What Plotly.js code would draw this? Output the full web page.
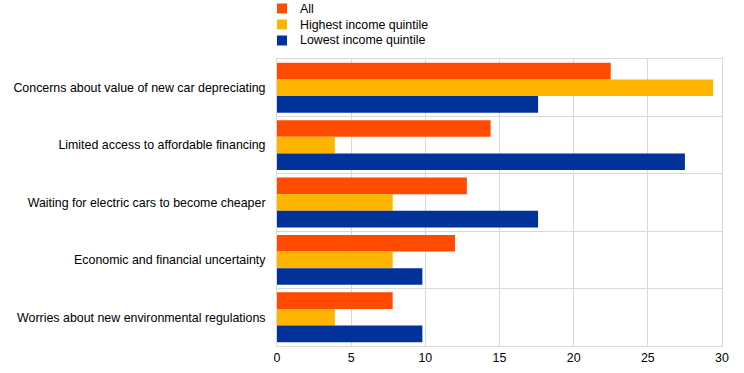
<!DOCTYPE html>
<html>
<head>
<meta charset="utf-8">
<script src="https://cdn.plot.ly/plotly-3.0.1.min.js"></script>
<style>
  html, body { margin: 0; padding: 0; background: #fff; }
  #chart { width: 744px; height: 373px; }
</style>
</head>
<body>
<div id="chart"></div>
<script>
const categories = [
  "Concerns about value of new car depreciating",
  "Limited access to affordable financing",
  "Waiting for electric cars to become cheaper",
  "Economic and financial uncertainty",
  "Worries about new environmental regulations"
];
const seriesNames = ["All", "Highest income quintile", "Lowest income quintile"];
const allValues = [22.5, 14.4, 12.8, 12.0, 7.8];
const highestValues = [29.4, 3.9, 7.8, 7.8, 3.9];
const lowestValues = [17.6, 27.5, 17.6, 9.8, 9.8];
const colors = ["#FF4B00", "#FFB400", "#003299"];
const xTicks = [0, 5, 10, 15, 20, 25, 30];

const W = 744, H = 373;
const M = { l: 277, r: 22, t: 59, b: 27 };
const plotW = W - M.l - M.r, plotH = H - M.t - M.b;
const FONT = "Arial, 'Liberation Sans', sans-serif";
const FS = 12.4;

const seriesValues = [allValues, highestValues, lowestValues];
const traces = seriesValues.map((vals, i) => ({
  type: "bar",
  orientation: "h",
  name: seriesNames[i],
  y: categories,
  x: vals,
  marker: { color: colors[i], line: { width: 0 } },
  hoverinfo: "x+y+name"
}));

// Legend drawn as shapes + annotations in the top margin (compact row spacing like the reference)
const px2x = px => (px - M.l) / plotW;
const py2y = py => (H - M.b - py) / plotH;
const shapes = [], annotations = [];
seriesNames.forEach((name, i) => {
  const cy = 8.5 + 16 * i;
  shapes.push({
    type: "rect", xref: "paper", yref: "paper",
    x0: px2x(277), x1: px2x(287), y0: py2y(cy + 5), y1: py2y(cy - 5),
    fillcolor: colors[i], line: { width: 0 }
  });
  annotations.push({
    xref: "paper", yref: "paper", x: px2x(298), y: py2y(cy),
    xanchor: "left", yanchor: "middle", showarrow: false,
    text: name, font: { family: FONT, size: FS, color: "#000000" }
  });
});

const layout = {
  width: W,
  height: H,
  margin: { l: M.l, r: M.r, t: M.t, b: M.b, pad: 0 },
  paper_bgcolor: "#ffffff",
  plot_bgcolor: "#ffffff",
  font: { family: FONT, size: FS, color: "#000000" },
  barmode: "group",
  bargap: 0.13,
  bargroupgap: 0,
  showlegend: false,
  shapes: shapes,
  annotations: annotations,
  xaxis: {
    range: [0, 30],
    tickvals: xTicks,
    ticktext: xTicks.map(String),
    showgrid: true,
    gridcolor: "#d9d9d9",
    gridwidth: 1,
    zeroline: false,
    showline: true,
    linecolor: "#d9d9d9",
    linewidth: 1,
    mirror: true,
    ticks: "",
    tickfont: { size: FS, color: "#000000" },
    automargin: false,
    fixedrange: true
  },
  yaxis: {
    type: "category",
    autorange: "reversed",
    tickson: "boundaries",
    showgrid: true,
    gridcolor: "#d9d9d9",
    gridwidth: 1,
    zeroline: false,
    showline: true,
    linecolor: "#d9d9d9",
    linewidth: 1,
    mirror: true,
    ticks: "",
    ticklabelstandoff: 8,
    tickfont: { size: FS, color: "#000000" },
    automargin: false,
    fixedrange: true
  }
};

Plotly.newPlot("chart", traces, layout, { displayModeBar: false, staticPlot: true });
</script>
</body>
</html>
